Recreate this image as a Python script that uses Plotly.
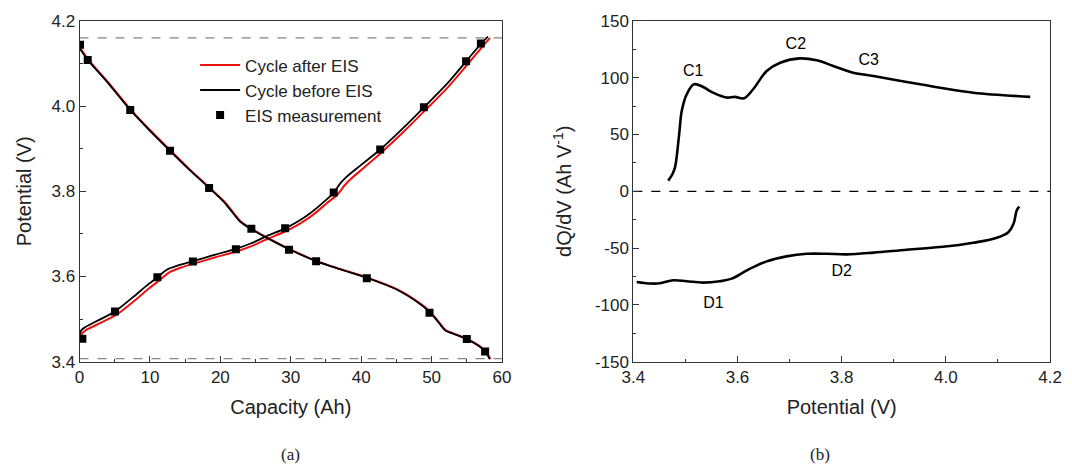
import plotly.graph_objects as go

# ---------------- Panel (a): voltage vs capacity ----------------
dis_cap_before = [0.0, 1.2, 4.0, 7.2, 10.0, 12.85, 15.5, 18.4, 20.45, 21.4, 22.8, 24.4, 26.35, 29.75, 33.6, 37.0, 40.8, 45.1, 48.4, 49.7, 50.8, 51.9, 53.5, 55.0, 56.5, 57.6, 58.25]
dis_v_before   = [4.136, 4.108, 4.055, 3.991, 3.942, 3.895, 3.852, 3.808, 3.776, 3.757, 3.729, 3.711, 3.693, 3.664, 3.636, 3.617, 3.597, 3.569, 3.535, 3.517, 3.496, 3.474, 3.463, 3.453, 3.439, 3.424, 3.406]

dis_cap_after = [0.1, 1.3, 4.1, 7.3, 10.1, 12.95, 15.6, 18.5, 20.55, 21.5, 22.9, 24.5, 26.45, 29.85, 33.7, 37.1, 40.9, 45.2, 48.5, 49.8, 50.9, 52.0, 53.6, 55.1, 56.6, 57.7, 58.35]
dis_v_after   = [4.136, 4.108, 4.055, 3.991, 3.942, 3.895, 3.852, 3.808, 3.776, 3.757, 3.729, 3.711, 3.693, 3.664, 3.636, 3.617, 3.597, 3.569, 3.535, 3.517, 3.496, 3.474, 3.463, 3.453, 3.439, 3.424, 3.406]

chg_cap_before = [0.0, 0.25, 0.8, 3.0, 5.04, 7.7, 9.5, 11.05, 12.4, 14.0, 16.1, 19.0, 22.2, 24.4, 26.35, 29.2, 31.0, 32.8, 34.9, 36.1, 37.0, 37.8, 40.0, 42.7, 45.8, 48.9, 52.0, 54.9, 57.0, 58.0]
chg_v_before   = [3.462, 3.474, 3.481, 3.500, 3.518, 3.553, 3.578, 3.598, 3.616, 3.626, 3.636, 3.650, 3.665, 3.678, 3.693, 3.713, 3.729, 3.749, 3.778, 3.797, 3.818, 3.832, 3.862, 3.898, 3.946, 3.997, 4.049, 4.105, 4.146, 4.163]

chg_cap_after = [0.1, 0.35, 0.9, 3.2, 5.3, 8.0, 9.8, 11.35, 12.8, 14.4, 16.4, 19.3, 22.5, 24.7, 26.65, 29.5, 31.3, 33.1, 35.2, 36.6, 37.6, 38.4, 40.5, 43.0, 46.1, 49.2, 52.3, 55.2, 57.3, 58.3]
chg_v_after   = [3.455, 3.466, 3.474, 3.493, 3.511, 3.546, 3.571, 3.591, 3.610, 3.621, 3.631, 3.645, 3.660, 3.673, 3.688, 3.708, 3.724, 3.744, 3.773, 3.792, 3.813, 3.827, 3.857, 3.893, 3.941, 3.992, 4.044, 4.100, 4.141, 4.160]

eis_cap = [0.07, 1.16, 7.2, 12.85, 18.4, 24.4, 29.75, 33.6, 40.8, 49.7, 55.0, 57.6,
           0.4, 5.04, 11.05, 16.1, 22.2, 29.2, 36.1, 42.7, 48.9, 54.9, 57.0]
eis_v   = [4.144, 4.108, 3.991, 3.895, 3.808, 3.712, 3.663, 3.636, 3.596, 3.515, 3.453, 3.424,
           3.454, 3.518, 3.598, 3.635, 3.664, 3.713, 3.797, 3.898, 3.997, 4.105, 4.147]

v_limits = [4.16, 3.407]
cap_span = [0, 60]

# ---------------- Panel (b): dQ/dV ----------------
chg_pot  = [3.467, 3.475, 3.480, 3.488, 3.493, 3.5025, 3.5165, 3.534, 3.553, 3.579, 3.595, 3.6125, 3.630, 3.656, 3.682, 3.720, 3.752, 3.784, 3.822, 3.861, 3.925, 3.989, 4.053, 4.162]
chg_dqdv = [9.4, 15.0, 21.0, 50.4, 70.8, 85.4, 94.2, 91.8, 86.8, 82.5, 83.1, 81.9, 89.8, 105.9, 113.2, 117.0, 115.3, 110.3, 104.4, 101.5, 96.2, 91.2, 86.8, 83.1]

dis_pot  = [3.4065, 3.432, 3.451, 3.477, 3.5025, 3.534, 3.566, 3.589, 3.618, 3.656, 3.694, 3.733, 3.771, 3.810, 3.861, 3.925, 3.989, 4.053, 4.098, 4.120, 4.130, 4.136, 4.141]
dis_dqdv = [-79.8, -81.2, -81.0, -78.3, -79.2, -80.4, -79.2, -76.9, -69.6, -61.7, -57.3, -55.0, -55.0, -55.5, -54.0, -51.4, -49.1, -45.3, -40.9, -36.0, -28.6, -16.9, -13.4]

zero_line = [0, 0]
pot_span = [3.4, 4.2]

dqdv_tickvals = [-150, -100, -50, 0, 50, 100, 150]
dqdv_ticktext = ["-150", "-100", "-50", "0", "50", "100", "150"]

peak_labels = ["C1", "C2", "C3", "D1", "D2"]
peak_x = [3.515, 3.712, 3.852, 3.554, 3.800]
peak_y = [105, 129, 115, -99, -71]

FONT = "Liberation Sans, Arial, sans-serif"
SERIF = "Liberation Serif, DejaVu Serif, serif"

fig = go.Figure()

for v in v_limits:
    fig.add_trace(go.Scatter(x=cap_span, y=[v, v], mode="lines", showlegend=False,
                             line=dict(color="#666666", width=1, dash="dash"),
                             xaxis="x", yaxis="y", hoverinfo="skip"))

fig.add_trace(go.Scatter(x=dis_cap_after, y=dis_v_after, mode="lines", name="Cycle after EIS",
                         line=dict(color="#ee1111", width=2, shape="spline", smoothing=0.8), xaxis="x", yaxis="y"))
fig.add_trace(go.Scatter(x=chg_cap_after, y=chg_v_after, mode="lines", showlegend=False,
                         line=dict(color="#ee1111", width=2, shape="spline", smoothing=0.8), xaxis="x", yaxis="y"))
fig.add_trace(go.Scatter(x=dis_cap_before, y=dis_v_before, mode="lines", name="Cycle before EIS",
                         line=dict(color="black", width=1.8, shape="spline", smoothing=0.8), xaxis="x", yaxis="y"))
fig.add_trace(go.Scatter(x=chg_cap_before, y=chg_v_before, mode="lines", showlegend=False,
                         line=dict(color="black", width=1.8, shape="spline", smoothing=0.8), xaxis="x", yaxis="y"))
fig.add_trace(go.Scatter(x=eis_cap, y=eis_v, mode="markers", name="EIS measurement",
                         marker=dict(symbol="square", size=8, color="black"), xaxis="x", yaxis="y"))

fig.add_trace(go.Scatter(x=pot_span, y=zero_line, mode="lines", showlegend=False,
                         line=dict(color="black", width=1.3, dash="dash"),
                         xaxis="x2", yaxis="y2", hoverinfo="skip"))
fig.add_trace(go.Scatter(x=chg_pot, y=chg_dqdv, mode="lines", showlegend=False,
                         line=dict(color="black", width=2.6, shape="spline"), xaxis="x2", yaxis="y2"))
fig.add_trace(go.Scatter(x=dis_pot, y=dis_dqdv, mode="lines", showlegend=False,
                         line=dict(color="black", width=2.6, shape="spline"), xaxis="x2", yaxis="y2"))
fig.add_trace(go.Scatter(x=peak_x, y=peak_y, mode="text", text=peak_labels, showlegend=False,
                         textfont=dict(family=FONT, size=16, color="black"),
                         xaxis="x2", yaxis="y2", hoverinfo="skip"))

axis_common = dict(showgrid=False, zeroline=False, showline=True, linecolor="#333333", linewidth=1,
                   mirror=True, ticks="inside", ticklen=6, tickcolor="#333333", automargin=False,
                   tickfont=dict(family=FONT, size=17, color="#222222"))
TITLE_FONT = dict(family=FONT, size=20, color="#222222")

yd = [0.2205, 0.955]

fig.update_layout(
    width=1072, height=464,
    margin=dict(l=0, r=0, t=0, b=0),
    paper_bgcolor="white", plot_bgcolor="white",
    font=dict(family=FONT, color="#222222"),
    xaxis=dict(domain=[0.0742, 0.4683], range=[0, 60], dtick=10, anchor="y",
               minor=dict(ticks="inside", ticklen=3, dtick=5, tickcolor="#333333"),
               title=dict(text="Capacity (Ah)", font=TITLE_FONT, standoff=13),
               **axis_common),
    yaxis=dict(domain=yd, range=[3.4, 4.2], dtick=0.2, tickformat=".1f", anchor="x",
               minor=dict(ticks="inside", ticklen=3, dtick=0.1, tickcolor="#333333"),
               title=dict(text="Potential (V)", font=TITLE_FONT, standoff=14),
               **axis_common),
    xaxis2=dict(domain=[0.5908, 0.9795], range=[3.4, 4.2], dtick=0.2, tickformat=".1f", anchor="y2",
                minor=dict(ticks="inside", ticklen=3, dtick=0.1, tickcolor="#333333"),
                title=dict(text="Potential (V)", font=TITLE_FONT, standoff=13),
                **axis_common),
    yaxis2=dict(domain=yd, range=[-150, 150], tickmode="array", tickvals=dqdv_tickvals, ticktext=dqdv_ticktext,
                anchor="x2",
                minor=dict(ticks="inside", ticklen=3, dtick=25, tickcolor="#333333"),
                title=dict(text="dQ/dV (Ah V<sup>-1</sup>)", font=TITLE_FONT, standoff=17),
                **axis_common),
    legend=dict(x=0.182, y=0.898, xanchor="left", yanchor="top", bgcolor="rgba(0,0,0,0)",
                font=dict(family=FONT, size=17, color="#222222"), tracegroupgap=0, itemwidth=40),
    annotations=[
        dict(text="(a)", x=0.271, y=0.0, xref="paper", yref="paper", xanchor="center", yanchor="bottom",
             yshift=-2, showarrow=False, font=dict(family=SERIF, size=17, color="#222222")),
        dict(text="(b)", x=0.765, y=0.0, xref="paper", yref="paper", xanchor="center", yanchor="bottom",
             yshift=-2, showarrow=False, font=dict(family=SERIF, size=17, color="#222222")),
    ],
)

fig.write_html("out.html")
